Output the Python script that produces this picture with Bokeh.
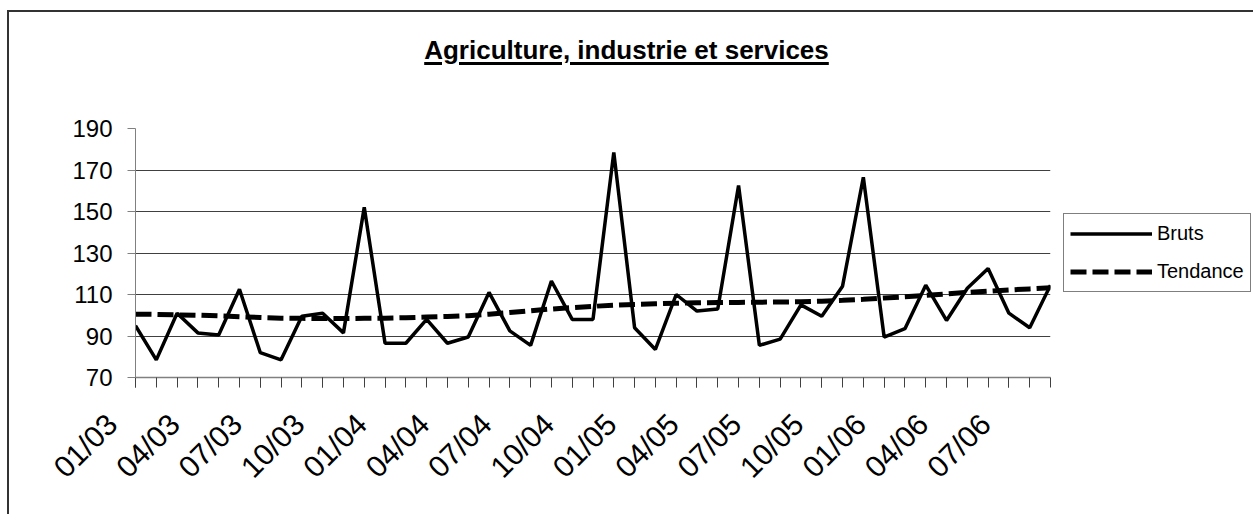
from math import pi
from bokeh.plotting import figure
from bokeh.layouts import column
from bokeh.models import FixedTicker, Legend, LegendItem, Range1d, Div
from bokeh.embed import file_html
from bokeh.resources import INLINE

# ---- data ----
title_text = "Agriculture, industrie et services"
tick_labels = ["01/03", "04/03", "07/03", "10/03", "01/04", "04/04", "07/04", "10/04",
               "01/05", "04/05", "07/05", "10/05", "01/06", "04/06", "07/06"]
bruts = [95, 78.5, 101, 91.5, 90.5, 112.5, 82, 78.5, 99.5, 101, 91.5, 152,
         86.5, 86.5, 98, 86.5, 89.5, 111, 92.5, 85.5, 116.5, 98, 98, 178.5,
         94, 83.5, 110, 102, 103, 162.5, 85.5, 88.5, 105, 99.5, 114, 166.5,
         89.5, 93.5, 114.5, 97.5, 113, 122.5, 101, 94, 114.5]
tendance = [100.5, 100.4, 100.2, 100.0, 99.7, 99.3, 98.9, 98.6, 98.5, 98.4, 98.4, 98.5,
            98.6, 98.8, 99.1, 99.4, 99.8, 100.5, 101.3, 102.2, 103.0, 103.7, 104.3, 104.8,
            105.2, 105.5, 105.8, 106.0, 106.1, 106.2, 106.3, 106.4, 106.5, 106.8, 107.2, 107.7,
            108.3, 108.9, 109.6, 110.3, 111.0, 111.6, 112.2, 112.7, 113.2]
y_ticks = [70, 90, 110, 130, 150, 170, 190]

x = list(range(len(bruts)))
label_pos = [i * 3 for i in range(len(tick_labels))]
FONT = "Liberation Sans"
PAD = "\u00a0\u00a0\u00a0\u00a0"  # keeps rotated labels ending left of their tick, as in the original

p = figure(frame_width=915, frame_height=249,
           min_border_left=126, min_border_right=202, min_border_top=60, min_border_bottom=137,
           x_range=Range1d(0, len(bruts) - 1), y_range=Range1d(70, 190),
           output_backend="svg", toolbar_location=None, background_fill_color="white",
           border_fill_color="white", margin=0)
p.outline_line_color = None

r1 = p.line(x, bruts, line_color="black", line_width=3.5)
r2 = p.line(x, tendance, line_color="black", line_width=5, line_dash="16 6")

# x axis: a tick every month, a label every quarter
p.xaxis.ticker = FixedTicker(ticks=label_pos, minor_ticks=x)
p.xaxis.major_label_overrides = {pos: lab + PAD for pos, lab in zip(label_pos, tick_labels)}
p.xaxis.major_label_orientation = pi / 4
p.xaxis.major_label_text_font = FONT
p.xaxis.major_label_text_font_size = "30px"
p.xaxis.major_label_text_color = "black"
p.xaxis.major_label_standoff = 8
p.xaxis.major_tick_in = 0
p.xaxis.major_tick_out = 10
p.xaxis.minor_tick_in = 0
p.xaxis.minor_tick_out = 10
p.xaxis.axis_line_color = "#808080"
p.xaxis.axis_line_width = 1.5
p.xaxis.major_tick_line_color = "#404040"
p.xaxis.minor_tick_line_color = "#404040"

p.yaxis.ticker = FixedTicker(ticks=y_ticks)
p.yaxis.major_label_text_font = FONT
p.yaxis.major_label_text_font_size = "24px"
p.yaxis.major_label_text_color = "black"
p.yaxis.major_label_standoff = 15
p.yaxis.major_tick_in = 0
p.yaxis.major_tick_out = 8
p.yaxis.minor_tick_line_color = None
p.yaxis.axis_line_color = "#808080"
p.yaxis.major_tick_line_color = "#808080"

p.xgrid.grid_line_color = None
p.ygrid.ticker = FixedTicker(ticks=y_ticks)
p.ygrid.grid_line_color = "#404040"
p.ygrid.grid_line_width = 1

legend = Legend(items=[LegendItem(label="Bruts", renderers=[r1]),
                       LegendItem(label="Tendance", renderers=[r2])],
                location=(13, 85), orientation="vertical",
                label_text_font=FONT, label_text_font_size="20px", label_text_color="black",
                glyph_width=82, glyph_height=27, label_standoff=5, spacing=11, padding=6,
                margin=0, border_line_color="black", border_line_width=1,
                background_fill_color="white", background_fill_alpha=1)
p.add_layout(legend, "right")

title = Div(
    text=('<div style="width:1235px; padding-top:20px; text-align:center; '
          'font-family:\'Liberation Sans\'; font-size:26px; font-weight:bold; color:black; '
          'white-space:nowrap;">'
          '<span style="text-decoration:underline; text-decoration-thickness:2.5px; '
          'text-underline-offset:2.5px;">' + title_text + '</span></div>'),
    width=1243, height=56, margin=0)

page = column(title, p, margin=(10, 0, 0, 7), spacing=0,
              styles={"border-left": "2px solid #333333", "border-top": "2px solid #333333"})

open("out.html", "w").write(file_html(page, INLINE))
